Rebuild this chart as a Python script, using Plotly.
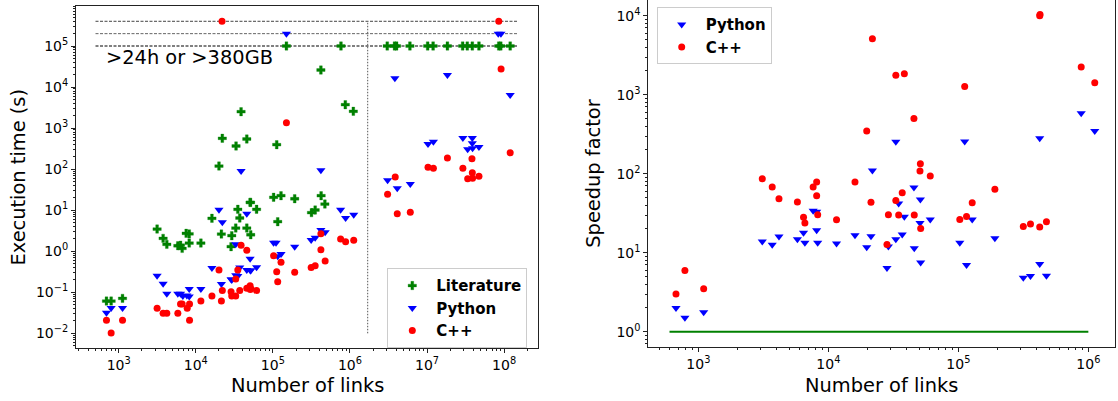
import math
import plotly.graph_objects as go

# ---------------- data: left panel (execution time) ----------------
lit_links = [694, 798, 1121, 3150, 3770, 4210, 5850, 6340, 6660, 7510, 8220, 8220,
             11650, 16200, 20000, 21480, 22100, 28700, 29300, 33000, 33300, 35100,
             37200, 38700, 45900, 50700, 45900, 51300, 51600, 61500, 102300, 112200,
             115600, 127600, 150000, 192000, 317000, 354000, 420000, 423000, 473000,
             765000, 871000, 1107000,
             3.05e6, 3.79e6, 4.03e6, 6.0e6, 1.02e7, 1.2e7, 1.84e7, 2.9e7, 3.33e7,
             3.87e7, 4.72e7, 8.53e7, 9.06e7, 1.2e8]
lit_time = [0.061, 0.061, 0.071, 3.47, 2.06, 1.47, 1.36, 1.40, 1.17, 2.73, 2.65, 1.58,
            1.58, 6.34, 119, 2.62, 564, 1.29, 2.39, 3.67, 366, 10.5,
            6.44, 2506, 3.67, 15.5, 542, 15.5, 2.52, 10.5, 20.6, 394,
            5.24, 22.5, 1e5, 19.0, 8.7, 10.1, 26000, 22.5, 14.1,
            1e5, 3715, 2565,
            1e5, 1e5, 1e5, 1e5, 1e5, 1e5, 1e5, 1e5, 1e5,
            1e5, 1e5, 1e5, 1e5, 1e5]

py_links = [694, 798, 1121, 3150, 3770, 4210, 5850, 6340, 6800, 7660, 8220, 8220,
            11650, 16200, 20000, 21500, 22100, 28700, 29300, 33000, 33000, 35100,
            37200, 38700, 45900, 45900, 50700, 51100, 51600, 61500, 102300, 110000,
            115600, 127600, 150000, 192000, 314000, 354000, 420000, 420000, 477000,
            757000, 879000, 1.12e6,
            3.08e6, 3.83e6, 4.11e6, 6.07e6, 1.03e7, 1.21e7, 1.84e7, 2.92e7, 3.37e7,
            3.87e7, 3.87e7, 3.9e7, 4.72e7, 8.4e7, 9.1e7, 1.2e8]
py_time = [0.0318, 0.0413, 0.0413, 0.253, 0.161, 0.092, 0.092, 0.092, 0.081, 0.083, 0.120, 0.079,
           0.120, 0.39, 10.3, 0.159, 5.06, 0.207, 0.20, 1.47, 0.26, 0.25,
           0.40, 90, 8.2, 0.348, 0.66, 0.34, 0.34, 0.405, 1.61, 1.61,
           0.75, 0.85, 2e5, 1.29, 1.88, 2.13, 3.29, 93.5, 2.89,
           10.3, 6.44, 7.75,
           53.3, 16300, 34.1, 43.4, 409, 466, 19700, 573, 304,
           573, 426, 322, 346, 2e5, 2e5, 6400]

cpp_links = [694, 798, 1121, 3150, 3770, 4210, 5850, 6340, 6660, 7740, 8300, 8300,
             11650, 16200, 20000, 21500, 21900, 22100, 28700, 29300, 33000, 33000, 35100,
             37200, 38700, 45900, 45900, 50700, 51000, 51600, 61500, 102300, 112200,
             115600, 127600, 150000, 192000, 314000, 354000, 420000, 420000, 477000,
             757000, 879000, 1.12e6,
             3.08e6, 3.87e6, 4.11e6, 6.07e6, 1.03e7, 1.21e7, 1.84e7, 2.92e7, 3.37e7,
             3.83e7, 3.87e7, 3.9e7, 4.72e7, 8.53e7, 9.14e7, 1.2e8]
cpp_time = [0.0207, 0.0102, 0.0207, 0.0405, 0.0307, 0.0307, 0.0307, 0.0516, 0.0516, 0.0405, 0.0516, 0.0207,
            0.061, 0.081, 0.348, 0.061, 4e5, 0.11, 0.103, 0.081, 0.21, 0.081, 0.35,
            0.111, 1.39, 1.05, 0.125, 0.144, 0.116, 0.124, 0.111, 0.78, 0.317,
            0.18, 0.535, 1352, 0.306, 0.40, 0.44, 1.09, 2.67, 0.577,
            1.98, 1.71, 1.85,
            24.3, 64.3, 8.2, 8.9, 111, 105, 187, 105, 58.5,
            180, 82, 59.7, 66.8, 4e5, 27500, 251]

# limit lines (timeouts) and separator
limit_levels = [4e5, 2e5, 1e5]
limit_colors = ["#444444", "#666666", "#000000"]
limit_span = [500, 1.5e8]
sep_links = [1.7e6, 1.7e6]
sep_span = [0.01, 4e5]
limit_text = ">24h or >380GB"

# ---------------- data: right panel (speedup) ----------------
sp_links = [673, 788, 1099, 3103, 3700, 4170, 5780, 6440, 6600, 7640, 8130, 8130,
            8280, 11560, 16030, 19730, 21280, 21820, 28250, 28970, 33040, 33040,
            34750, 37000, 38420, 45530, 45800, 50680, 51030, 51300, 60800, 102600,
            111900, 115600, 127800, 191000, 316000, 358800, 422600, 422600, 476000,
            881000, 1.12e6, 425000]
sp_python = [2.0, 1.50, 1.76, 13.9, 12.6, 16.1, 14.8, 17.9, 13.4, 34, 33, 19.2,
             13.4, 13.1, 16.6, 11.7, 16.2, 110, 6.4, 12, 254, 14.8,
             42, 17, 28.6, 67, 11.4, 23.8, 47.3, 7.55, 26.4, 13.4,
             255, 6.98, 26.4, 15.3, 4.82, 5.07, 7.2, 282, 5.1,
             581, 347, None]
sp_cpp = [3.0, 5.97, 3.5, 86.4, 67.8, 48.3, 43.8, 28.2, 23.8, 67.8, 78.5, 52.7,
          30.3, 26.2, 78.5, 347, 43.4, 5120, 12.7, 30.3, 1758, 45.9,
          30, 57.4, 1845, 501, 30, 108, 134, 20.3, 93.3, 26.4,
          1273, 28.8, 43, 63.4, 21.5, 23.1, 21.1, 10000, 24.6,
          2240, 1420, 10400]
base_links = [600, 1.0e6]
base_value = [1, 1]

# tick labels
x1_ticks = [1e3, 1e4, 1e5, 1e6, 1e7, 1e8]
x1_text = ["10<sup>3</sup>", "10<sup>4</sup>", "10<sup>5</sup>", "10<sup>6</sup>", "10<sup>7</sup>", "10<sup>8</sup>"]
y1_ticks = [1e-2, 1e-1, 1, 1e1, 1e2, 1e3, 1e4, 1e5]
y1_text = ["10<sup>\u22122</sup>", "10<sup>\u22121</sup>", "10<sup>0</sup>", "10<sup>1</sup>",
           "10<sup>2</sup>", "10<sup>3</sup>", "10<sup>4</sup>", "10<sup>5</sup>"]
x2_ticks = [1e3, 1e4, 1e5, 1e6]
x2_text = ["10<sup>3</sup>", "10<sup>4</sup>", "10<sup>5</sup>", "10<sup>6</sup>"]
y2_ticks = [1, 1e1, 1e2, 1e3, 1e4]
y2_text = ["10<sup>0</sup>", "10<sup>1</sup>", "10<sup>2</sup>", "10<sup>3</sup>", "10<sup>4</sup>"]

GREEN, BLUE, RED = "#008000", "#0000ff", "#ff0000"
FONT = "DejaVu Sans"
W, H = 1118, 401


def minor_vals(lo, hi):
    return [k * 10 ** d for d in range(lo, hi) for k in range(2, 10)]


fig = go.Figure()

# limit lines
for lvl, col in zip(limit_levels, limit_colors):
    fig.add_trace(go.Scatter(x=limit_span, y=[lvl, lvl], mode="lines",
                             line=dict(color=col, width=1, dash="3px,1.5px"),
                             showlegend=False, hoverinfo="skip", xaxis="x", yaxis="y"))
fig.add_trace(go.Scatter(x=sep_links, y=sep_span, mode="lines",
                         line=dict(color="#555555", width=1, dash="1.5px,1.5px"),
                         showlegend=False, hoverinfo="skip", xaxis="x", yaxis="y"))

fig.add_trace(go.Scatter(x=lit_links, y=lit_time, mode="markers", name="Literature",
                         marker=dict(symbol="cross", color=GREEN, size=7,
                                     line=dict(color=GREEN, width=0.3)),
                         xaxis="x", yaxis="y", legend="legend"))
fig.add_trace(go.Scatter(x=py_links, y=py_time, mode="markers", name="Python",
                         marker=dict(symbol="triangle-down", color=BLUE, size=8),
                         xaxis="x", yaxis="y", legend="legend"))
fig.add_trace(go.Scatter(x=cpp_links, y=cpp_time, mode="markers", name="C++",
                         marker=dict(symbol="circle", color=RED, size=7),
                         xaxis="x", yaxis="y", legend="legend"))

# right panel
fig.add_trace(go.Scatter(x=base_links, y=base_value, mode="lines",
                         line=dict(color=GREEN, width=2), showlegend=False,
                         hoverinfo="skip", xaxis="x2", yaxis="y2"))
fig.add_trace(go.Scatter(x=sp_links, y=sp_python, mode="markers", name="Python",
                         marker=dict(symbol="triangle-down", color=BLUE, size=8),
                         xaxis="x2", yaxis="y2", legend="legend2"))
fig.add_trace(go.Scatter(x=sp_links, y=sp_cpp, mode="markers", name="C++",
                         marker=dict(symbol="circle", color=RED, size=7),
                         xaxis="x2", yaxis="y2", legend="legend2"))

tickfont = dict(family=FONT, size=14, color="black")
common = dict(type="log", showgrid=False, zeroline=False, showline=True,
              linecolor="#222222", linewidth=1, ticks="outside", ticklen=4,
              tickwidth=1, tickcolor="#222222", tickfont=tickfont, automargin=False)

fig.update_layout(
    width=W, height=H, margin=dict(l=0, r=0, t=0, b=0),
    paper_bgcolor="white", plot_bgcolor="white",
    font=dict(family=FONT, color="black"),
    xaxis=dict(domain=[76 / W, 538 / W], range=[2.446, 8.44], mirror=True,
               tickvals=x1_ticks, ticktext=x1_text, anchor="y",
               minor=dict(tickvals=minor_vals(2, 9), ticks="outside", ticklen=2,
                          tickcolor="#222222", tickwidth=0.8), **common),
    yaxis=dict(domain=[1 - 348 / H, 1 - 5.7 / H], range=[-2.358, 5.982], mirror=True,
               tickvals=y1_ticks, ticktext=y1_text, anchor="x",
               minor=dict(tickvals=minor_vals(-3, 6), ticks="outside", ticklen=2,
                          tickcolor="#222222", tickwidth=0.8), **common),
    xaxis2=dict(domain=[648.3 / W, 1115 / W], range=[2.615, 6.205], mirror=False,
                tickvals=x2_ticks, ticktext=x2_text, anchor="y2",
                minor=dict(tickvals=minor_vals(2, 7), ticks="outside", ticklen=2,
                           tickcolor="#222222", tickwidth=0.8), **common),
    yaxis2=dict(domain=[1 - 347.3 / H, 1.0], range=[-0.197, 4.199], mirror=True,
                tickvals=y2_ticks, ticktext=y2_text, anchor="x2",
                minor=dict(tickvals=minor_vals(-1, 5), ticks="outside", ticklen=2,
                           tickcolor="#222222", tickwidth=0.8), **common),
    legend=dict(x=387.3 / W, y=1 - 268.3 / H, xanchor="left", yanchor="top",
                bgcolor="white", bordercolor="#cccccc", borderwidth=1,
                font=dict(family=FONT, size=15, color="black", weight="bold"),
                tracegroupgap=0, itemwidth=38),
    legend2=dict(x=656.7 / W, y=1 - 7.3 / H, xanchor="left", yanchor="top",
                 bgcolor="white", bordercolor="#cccccc", borderwidth=1,
                 font=dict(family=FONT, size=15, color="black", weight="bold"),
                 tracegroupgap=0, itemwidth=38),
    showlegend=True,
)

# the text inside the left panel
fig.add_annotation(x=math.log10(647), y=math.log10(5.25e4), xref="x", yref="y",
                   text=limit_text, showarrow=False, xanchor="left", yanchor="middle",
                   font=dict(family=FONT, size=19.4, color="black"))

# axis titles
title_font = dict(family=FONT, size=19.4, color="black")
fig.add_annotation(x=307.9 / W, y=1 - 385 / H, xref="paper", yref="paper",
                   text="Number of links", showarrow=False, xanchor="center",
                   yanchor="middle", font=title_font)
fig.add_annotation(x=881.7 / W, y=1 - 385 / H, xref="paper", yref="paper",
                   text="Number of links", showarrow=False, xanchor="center",
                   yanchor="middle", font=title_font)
fig.add_annotation(x=18.5 / W, y=1 - 177 / H, xref="paper", yref="paper",
                   text="Execution time (s)", showarrow=False, textangle=-90,
                   xanchor="center", yanchor="middle", font=title_font)
fig.add_annotation(x=594 / W, y=1 - 173.7 / H, xref="paper", yref="paper",
                   text="Speedup factor", showarrow=False, textangle=-90,
                   xanchor="center", yanchor="middle", font=title_font)

fig.write_html("out.html",
               config={"displayModeBar": False},
               post_script="document.body.style.margin='0';"
                           "document.body.style.overflow='hidden';")
